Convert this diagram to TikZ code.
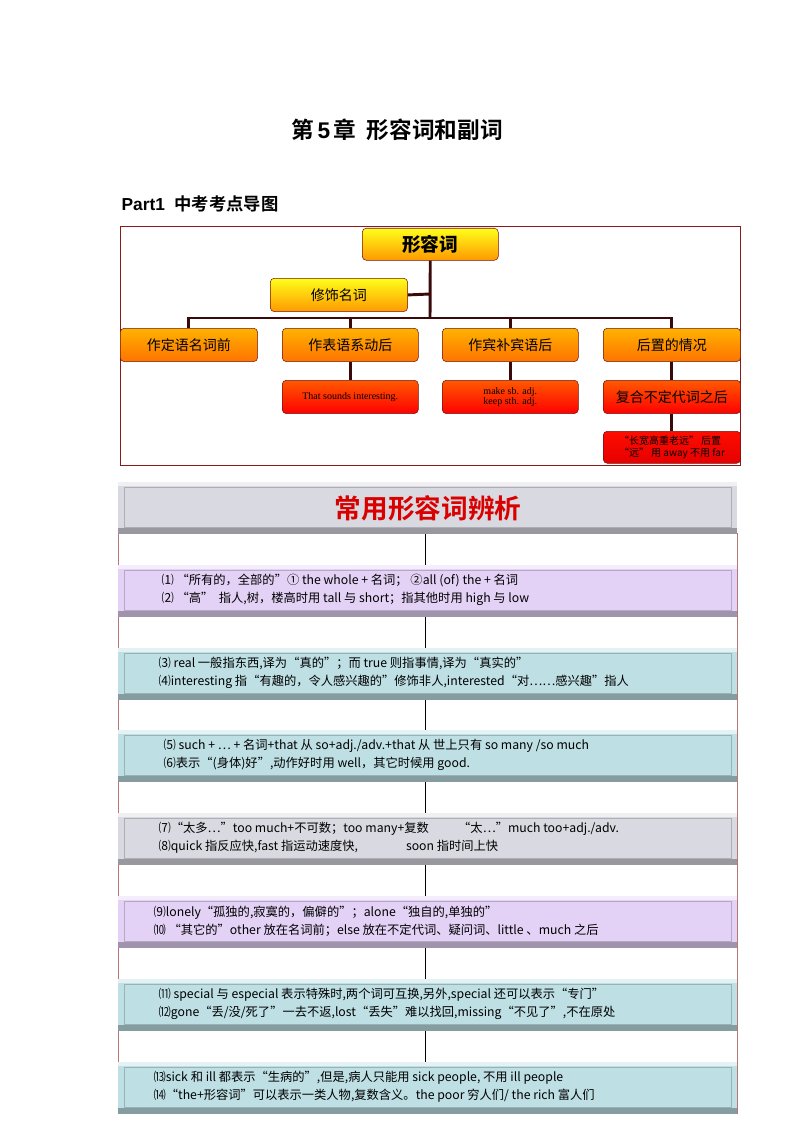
\documentclass[tikz,border=0pt]{standalone}
\usepackage{fontspec}
\setmainfont{Noto Sans CJK SC}
\newfontfamily\cjkbold[BoldFont={Noto Sans CJK SC Bold}]{Noto Sans CJK SC}
\newfontfamily\latinbold{Liberation Sans}
\usetikzlibrary{positioning}
\definecolor{framered}{HTML}{8B1A1A}
\definecolor{stem}{HTML}{3A0A0A}
\definecolor{bandgray}{HTML}{D9D9E1}
\definecolor{bandpurple}{HTML}{E4D2F6}
\definecolor{bandteal}{HTML}{BEDFE4}
\tikzset{
    every node/.style={inner sep=1pt},
    topbox/.style={ % yellow and orange boxes
        draw=framered!80!black, rounded corners=3pt, thin,
        anchor=north west, font=\fontsize{10.5}{12}\selectfont
    },
    yellowbox/.style={topbox, top color=yellow!90!white, bottom color=orange!80!yellow},
    orangebox/.style={topbox, top color=orange!60!yellow, bottom color=orange!90!red},
    redbox/.style={topbox, top color=orange!70!red, bottom color=red, font=\fontsize{7.5}{8.5}\selectfont},
    stemline/.style={stem, line width=2.2pt},
    bandtext/.style={anchor=west, align=left, font=\fontsize{9.2}{13.5}\selectfont}
}
\begin{document}
\begin{tikzpicture}[x=0.75pt,y=-0.75pt]
\useasboundingbox (0,0) rectangle (794,1123);
% headings
\node (title) at (397,130) {\fontsize{17}{20}\selectfont\cjkbold\bfseries 第\,\latinbold\bfseries 5\,\cjkbold\bfseries 章\ \ 形容词和副词};
\node [anchor=west] (part) at (120,204) {\latinbold\bfseries\fontsize{13}{15}\selectfont Part1\ \ \cjkbold\bfseries 中考考点导图};
\draw [framered] (120,226) rectangle (740,465);
% chart
\node [yellowbox, minimum width=102pt, minimum height=24pt, font=\fontsize{14}{16}\selectfont\bfseries] (adj) at (362,228) {形容词};
\node [yellowbox, minimum width=103pt, minimum height=25pt] (noun) at (270,278) {修饰名词};
\node [orangebox, minimum width=103pt, minimum height=25pt] (attr) at (120,328) {作定语名词前};
\node [orangebox, minimum width=102pt, minimum height=25pt] (pred) at (282,328) {作表语系动后};
\node [orangebox, minimum width=102pt, minimum height=25pt] (comp) at (442,328) {作宾补宾语后};
\node [orangebox, minimum width=103pt, minimum height=25pt] (post) at (603,328) {后置的情况};
\node [redbox, minimum width=102pt, minimum height=25pt] (sound) at (282,380) {\fontspec{Liberation Serif}That sounds interesting.};
\node [redbox, minimum width=102pt, minimum height=25pt, align=center] (make) at (442,380) {\fontspec{Liberation Serif}make sb. adj.\\[-1pt]\fontspec{Liberation Serif}keep sth. adj.};
\node [orangebox, top color=orange!70!red, bottom color=red, minimum width=103pt, minimum height=25pt] (indef) at (603,380) {复合不定代词之后};
\node [redbox, top color=red!90!orange, bottom color=red!90!black, minimum width=103pt, minimum height=24pt, align=left] (far) at (603,431) {“长宽高重老远” 后置\\“远” 用 away 不用 far};
\coordinate (bar) at (430,318);
\coordinate (knee) at (430,294);
\draw [stemline] (adj.south) -- (bar);
\draw [stemline] (noun.east) -- (knee);
\draw [stemline] (attr.north) |- (bar) -| (post.north);
\draw [stemline] (pred.north) -- (pred.north |- bar);
\draw [stemline] (comp.north) -- (comp.north |- bar);
\draw [stemline] (pred) -- (sound);
\draw [stemline] (comp) -- (make);
\draw [stemline] (post) -- (indef);
\draw [stemline] (indef) -- (far);
% bands
\draw [framered!60] (118,533) -- (118,1114);
\draw [framered!60] (737,533) -- (737,1114);
\draw [black] (425,533) -- (425,1114);
\foreach \y/\c in {482/bandgray,565/bandpurple,648/bandteal,730/bandteal,813/bandgray,896/bandpurple,979/bandteal,1062/bandteal}{
    \fill [\c] (118,\y) rectangle (737,\y+52);
    \fill [\c!70!black] (118,\y+46) rectangle (737,\y+52);
    \fill [white!60!\c] (118,\y) rectangle (737,\y+4);
    \draw [\c!80!black] (124,\y+5) rectangle (731,\y+45);
}
\node [font=\cjkbold\bfseries\fontsize{20}{22}\selectfont, text=red!85!black] (head) at (428,508) {常用形容词辨析};
\node [bandtext] (t1) at (160,590) {⑴ “所有的，全部的”①\ the whole + 名词；\ ②all (of) the + 名词\\⑵ “高”\ \ 指人,树，楼高时用 tall 与 short；指其他时用 high 与 low};
\node [bandtext] (t2) at (157,673) {⑶ real 一般指东西,译为“真的”；而 true 则指事情,译为“真实的”\\⑷interesting 指“有趣的，令人感兴趣的”修饰非人,interested“对……感兴趣”指人};
\node [bandtext] (t3) at (162,755) {⑸ such + … + 名词+that 从\ so+adj./adv.+that 从\ 世上只有 so many /so much\\⑹表示“(身体)好”,动作好时用 well，其它时候用 good.};
\node [bandtext] (t4) at (157,838) {⑺“太多…”too much+不可数；too many+复数\hspace{22pt}“太…”much too+adj./adv.\\⑻quick 指反应快,fast 指运动速度快,\hspace{36pt}soon 指时间上快};
\node [bandtext] (t5) at (152,921) {⑼lonely“孤独的,寂寞的，偏僻的”；alone“独自的,单独的”\\⑽ “其它的”other 放在名词前；else 放在不定代词、疑问词、little 、much 之后};
\node [bandtext] (t6) at (157,1004) {⑾ special 与 especial 表示特殊时,两个词可互换,另外,special 还可以表示“专门”\\⑿gone“丢/没/死了”一去不返,lost“丢失”难以找回,missing“不见了”,不在原处};
\node [bandtext] (t7) at (152,1087) {⒀sick 和 ill 都表示“生病的”,但是,病人只能用 sick people, 不用 ill people\\⒁“the+形容词”可以表示一类人物,复数含义。the poor 穷人们/ the rich 富人们};
\end{tikzpicture}
\end{document}
